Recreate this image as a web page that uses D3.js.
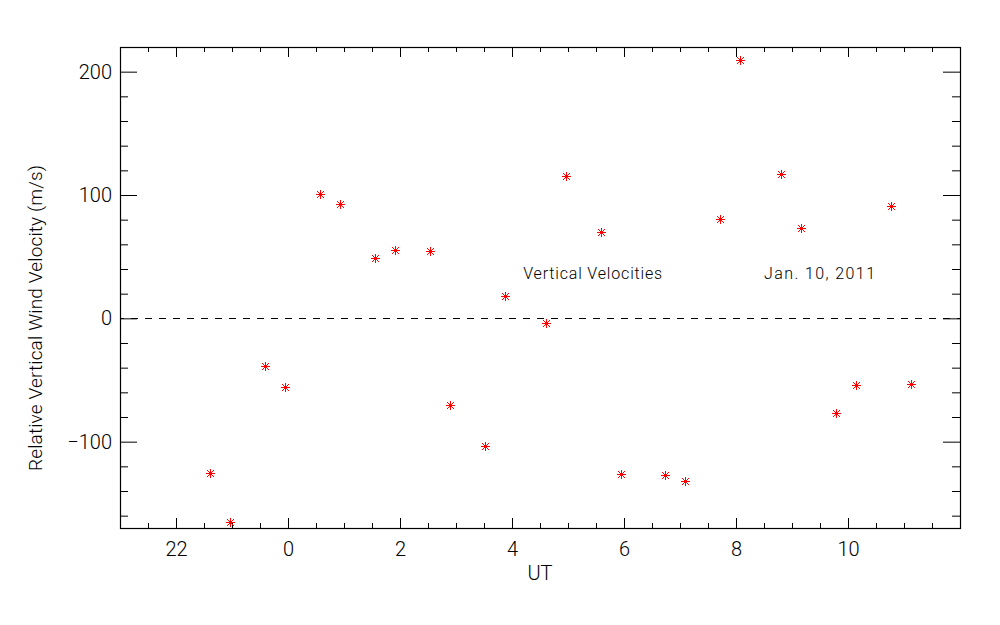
<!DOCTYPE html>
<html>
<head>
<meta charset="utf-8">
<script src="https://cdn.jsdelivr.net/npm/d3@7"></script>
<style>
    body { margin: 0; background: #fff; }
    svg { display: block; }
    text { font-family: Roboto, "Liberation Sans", Arial, sans-serif; font-weight: 300; fill: #000; }
</style>
</head>
<body>
<svg width="1000" height="625"></svg>
<script>
// UT of each measurement (hours, wraps at midnight)
const utHours = [22.61, 22.96, 23.59, 23.95, 0.57, 0.93, 1.55, 1.91, 2.54, 2.89,
                 3.52, 3.88, 4.61, 4.96, 5.59, 5.95, 6.73, 7.09, 7.71, 8.07,
                 8.80, 9.16, 9.79, 10.14, 10.77, 11.13];
// relative vertical wind velocity (m/s)
const velocities = [-125.5, -164.9, -38.9, -55.9, 101.2, 93.1, 48.6, 55.3, 54.5, -70.4,
                    -103.4, 18.1, -4.0, 115.2, 69.6, -126.1, -126.9, -132.0, 80.2, 209.7,
                    117.4, 73.5, -76.9, -54.3, 90.9, -53.2];

const xMajorTicks = [22, 24, 26, 28, 30, 32, 34];
const yMajorTicks = [-100, 0, 100, 200];
const noteLabels = ["Vertical Velocities", "Jan. 10, 2011"];
const noteUT = [4.2, 8.5];
const noteV = [32, 32];

// hours after midnight get pushed past 24 so the time axis runs continuously
const unwrap = h => h < 12 ? h + 24 : h;

function drawChart() {
    const svg = d3.select("svg");
    svg.selectAll("*").remove();

    const margin = {top: 47, right: 40, bottom: 97, left: 120};
    const width = +svg.attr("width") - margin.left - margin.right;
    const height = +svg.attr("height") - margin.top - margin.bottom;

    const g = svg.append("g").attr("transform", `translate(${margin.left},${margin.top})`);

    const x = d3.scaleLinear().domain([21, 36]).range([0, width]);
    const y = d3.scaleLinear().domain([-170, 220]).range([height, 0]);

    const xMinor = d3.range(21.5, 36, 0.5).filter(v => !xMajorTicks.includes(v));
    const yMinor = d3.range(-160, 220, 20).filter(v => !yMajorTicks.includes(v));

    const addAxis = (axis, transform, cls) => {
        const a = g.append("g").attr("class", cls).attr("transform", transform).call(axis);
        a.select(".domain").remove();
        a.selectAll("line").attr("stroke", "#000");
        return a;
    };

    // bottom
    addAxis(d3.axisBottom(x).tickValues(xMajorTicks).tickSize(-10).tickPadding(14)
        .tickFormat(d => d % 24), `translate(0,${height})`, "axis axis--x")
        .selectAll("text").style("font-size", "20px");
    addAxis(d3.axisBottom(x).tickValues(xMinor).tickSize(-5).tickFormat(""), `translate(0,${height})`, "minor");
    // top
    addAxis(d3.axisTop(x).tickValues(xMajorTicks).tickSize(-10).tickFormat(""), "translate(0,0)", "axis");
    addAxis(d3.axisTop(x).tickValues(xMinor).tickSize(-5).tickFormat(""), "translate(0,0)", "minor");
    // left
    addAxis(d3.axisLeft(y).tickValues(yMajorTicks).tickSize(-17).tickPadding(8), "translate(0,0)", "axis axis--y")
        .selectAll("text").style("font-size", "20px");
    addAxis(d3.axisLeft(y).tickValues(yMinor).tickSize(-8).tickFormat(""), "translate(0,0)", "minor");
    // right
    addAxis(d3.axisRight(y).tickValues(yMajorTicks).tickSize(-17).tickFormat(""), `translate(${width},0)`, "axis");
    addAxis(d3.axisRight(y).tickValues(yMinor).tickSize(-8).tickFormat(""), `translate(${width},0)`, "minor");

    g.selectAll("text").attr("font-family", null);

    g.append("rect")
        .attr("x", 0.5).attr("y", 0.5)
        .attr("width", width).attr("height", height)
        .attr("fill", "none")
        .attr("stroke", "#000")
        .attr("stroke-width", 1.2);

    // zero line
    g.append("line")
        .attr("x1", 0).attr("x2", width)
        .attr("y1", Math.round(y(0)) + 0.5).attr("y2", Math.round(y(0)) + 0.5)
        .attr("stroke", "#000")
        .attr("stroke-dasharray", "7,7")
        .attr("stroke-dashoffset", 3);

    // asterisk marker (plus + cross)
    const star = "M-4.5,0H4.5M0,-4.5V4.5M-3.5,-3.5L3.5,3.5M-3.5,3.5L3.5,-3.5";
    const data = utHours.map((h, i) => ({t: unwrap(h), v: velocities[i]}));

    g.selectAll(".dot")
        .data(data)
        .enter().append("path")
        .attr("class", "dot")
        .attr("d", star)
        .attr("transform", d => `translate(${Math.round(x(d.t)) + 0.5},${Math.round(y(d.v)) + 0.5})`)
        .attr("fill", "none")
        .attr("stroke", "#ff0000")
        .attr("stroke-width", 1);

    // the plotting font runs wider than the browser's, so stretch the labels to the same length
    const noteWidths = [139, 111];
    g.selectAll(".note")
        .data(noteLabels)
        .enter().append("text")
        .attr("class", "note")
        .attr("x", (d, i) => x(unwrap(noteUT[i])))
        .attr("y", (d, i) => y(noteV[i]))
        .attr("textLength", (d, i) => noteWidths[i])
        .attr("lengthAdjust", "spacing")
        .style("font-size", "16px")
        .text(d => d);

    svg.append("text")
        .attr("x", margin.left + width / 2)
        .attr("y", 580)
        .attr("text-anchor", "middle")
        .style("font-size", "20px")
        .text("UT");

    svg.append("text")
        .attr("transform", "translate(42,318) rotate(-90)")
        .attr("text-anchor", "middle")
        .attr("textLength", 306)
        .attr("lengthAdjust", "spacing")
        .style("font-size", "19px")
        .text("Relative Vertical Wind Velocity (m/s)");
}

drawChart();
</script>
</body>
</html>
